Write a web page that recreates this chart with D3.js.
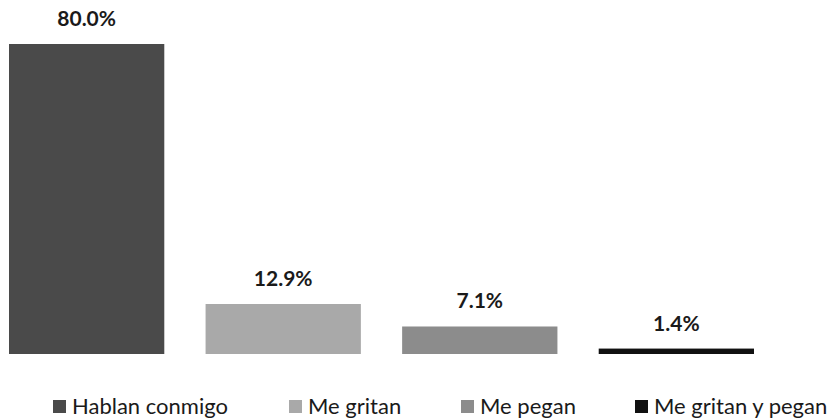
<!DOCTYPE html>
<html>
<head>
<meta charset="utf-8">
<script src="https://cdn.jsdelivr.net/npm/d3@7"></script>
<style>
  body { margin: 0; background: #fff; }
  svg { display: block; font-family: Lato, "Open Sans", sans-serif; }
</style>
</head>
<body>
<svg width="832" height="420"></svg>
<script>
var categories = ["Hablan conmigo", "Me gritan", "Me pegan", "Me gritan y pegan"];
var values = [80.0, 12.9, 7.1, 1.4];
var colors = ["#4a4a4a", "#a9a9a9", "#8c8c8c", "#111111"];

var svg = d3.select("svg"),
    baseline = 354;

var x = d3.scaleBand().domain(categories).range([9, 754]).paddingInner(0.21).paddingOuter(0);
var y = d3.scaleLinear().domain([0, 80]).range([baseline, 44]);

var bars = svg.append("g").selectAll("g")
    .data(categories)
    .enter().append("g");

bars.append("rect")
    .attr("x", function (d) { return x(d); })
    .attr("width", x.bandwidth())
    .attr("y", function (d, i) { return y(values[i]); })
    .attr("height", function (d, i) { return baseline - y(values[i]); })
    .attr("fill", function (d, i) { return colors[i]; });

bars.append("text")
    .attr("x", function (d) { return x(d) + x.bandwidth() / 2; })
    .attr("y", function (d, i) { return y(values[i]) - 18; })
    .attr("text-anchor", "middle")
    .style("font-size", "21px")
    .style("font-weight", "bold")
    .attr("fill", "#1a1a1a")
    .text(function (d, i) { return values[i].toFixed(1) + "%"; });

// legend
var legendX = [53, 289, 461, 635];
var legend = svg.append("g").selectAll("g")
    .data(categories)
    .enter().append("g")
    .attr("transform", function (d, i) { return "translate(" + legendX[i] + ",414)"; });

legend.append("rect")
    .attr("x", 0).attr("y", -14)
    .attr("width", 13).attr("height", 13)
    .attr("fill", function (d, i) { return colors[i]; });

legend.append("text")
    .attr("x", 19)
    .style("font-size", "22px")
    .attr("fill", "#1a1a1a")
    .text(function (d) { return d; });
</script>
</body>
</html>
